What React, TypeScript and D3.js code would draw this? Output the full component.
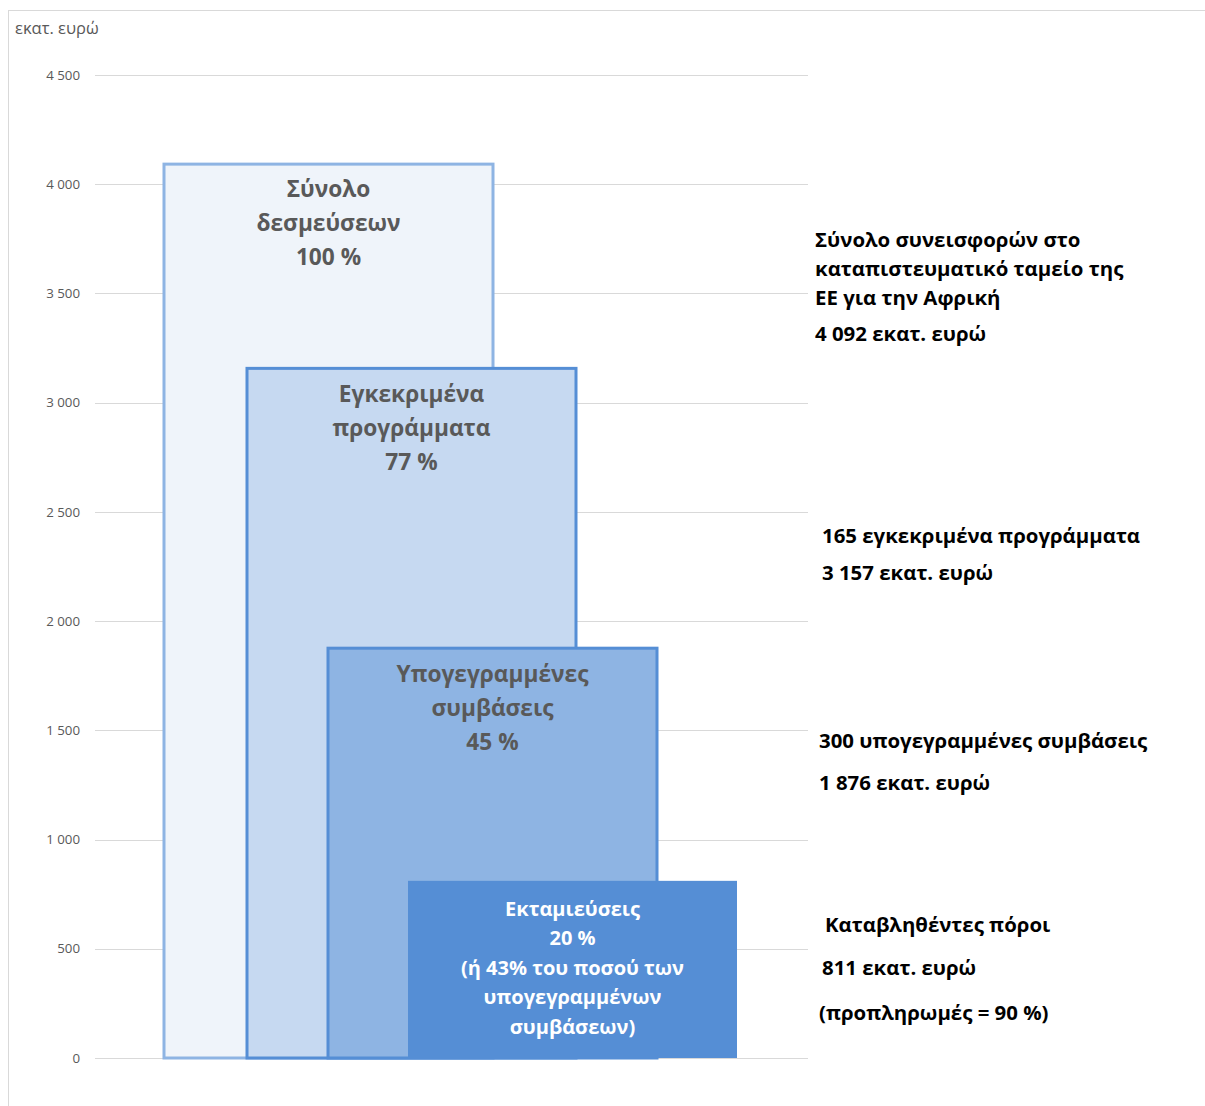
import React from "react";
import * as d3 from "d3";

// ---- data ----
const categories = ["Σύνολο δεσμεύσεων", "Εγκεκριμένα προγράμματα", "Υπογεγραμμένες συμβάσεις", "Εκταμιεύσεις"];
const values = [4092, 3157, 1876, 811];
const barLabelLines = [
  ["Σύνολο", "δεσμεύσεων", "100 %"],
  ["Εγκεκριμένα", "προγράμματα", "77 %"],
  ["Υπογεγραμμένες", "συμβάσεις", "45 %"],
  ["Εκταμιεύσεις", "20 %", "(ή 43% του ποσού των", "υπογεγραμμένων", "συμβάσεων)"],
];
const annotationLines = [
  ["Σύνολο συνεισφορών στο", "καταπιστευματικό ταμείο της", "ΕΕ για την Αφρική", "4 092 εκατ. ευρώ"],
  ["165 εγκεκριμένα προγράμματα", "3 157 εκατ. ευρώ"],
  ["300 υπογεγραμμένες συμβάσεις", "1 876 εκατ. ευρώ"],
  ["Καταβληθέντες πόροι", "811 εκατ. ευρώ", "(προπληρωμές = 90 %)"],
];
const yTicks = [0, 500, 1000, 1500, 2000, 2500, 3000, 3500, 4000, 4500];
const yUnit = "εκατ. ευρώ";

// ---- styles / layout ----
const fills = ["#EFF4FA", "#C6D9F1", "#8EB4E3", "#558ED5"];
const strokes = ["#8EB4E3", "#558ED5", "#558ED5", "none"];
const textColors = ["#595959", "#595959", "#595959", "#FFFFFF"];
const labelSizes = [22.7, 22.7, 22.7, 20];
const labelLineH = [34, 34, 34, 29.5];
const labelFirstOffset = [33, 34, 34, 35];
const barLefts = [164, 247, 328, 408];
const annotationLayout = [
  { x: 815, ys: [247, 276, 305, 341] },
  { x: 822, ys: [543, 580] },
  { x: 819, ys: [748, 790] },
  { x: 825, ys: [932, 975, 1020], xs: [825, 822, 819] },
];

const W = 1205;
const H = 1106;
const FONT = "'Open Sans', 'Noto Sans', sans-serif";

export default function App() {
  const y = d3.scaleLinear().domain([0, 4500]).range([1058, 75]);
  const x = d3.scaleOrdinal<string, number>().domain(categories).range(barLefts);
  const barW = 329;
  const fmt = (v: number) => d3.format(",")(v).replace(/,/g, " ");

  return (
    <svg
      width={W}
      height={H}
      style={{ position: "absolute", left: 0, top: 0, background: "#fff" }}
      fontFamily={FONT}
    >
      {/* outer frame */}
      <line x1={8.5} x2={8.5} y1={10} y2={H} stroke="#d9d9d9" strokeWidth={1} />
      <line x1={8} x2={W} y1={10.5} y2={10.5} stroke="#d9d9d9" strokeWidth={1} />

      <text x={15} y={34} fontSize={16.5} fill="#595959">{yUnit}</text>

      {/* gridlines + ticks */}
      {yTicks.map((t) => (
        <g key={t}>
          <line x1={95} x2={808} y1={Math.round(y(t)) + 0.5} y2={Math.round(y(t)) + 0.5} stroke="#d9d9d9" strokeWidth={1} />
          <text x={80} y={y(t)} dy="0.35em" textAnchor="end" fontSize={13.3} fill="#595959">
            {fmt(t)}
          </text>
        </g>
      ))}

      {/* bars */}
      {values.map((v, i) => (
        <rect
          key={categories[i]}
          x={x(categories[i])}
          y={y(v)}
          width={barW}
          height={y(0) - y(v)}
          fill={fills[i]}
          stroke={strokes[i]}
          strokeWidth={3}
        />
      ))}

      {/* bar labels */}
      {values.map((v, i) => {
        const cx = x(categories[i]) + barW / 2;
        return (
          <text key={"l" + i} x={cx} textAnchor="middle" fontSize={labelSizes[i]} fontWeight="bold" fill={textColors[i]}>
            {barLabelLines[i].map((ln, j) => (
              <tspan key={j} x={cx} y={y(v) + labelFirstOffset[i] + j * labelLineH[i]}>
                {ln}
              </tspan>
            ))}
          </text>
        );
      })}

      {/* annotations */}
      {annotationLines.map((lines, i) => (
        <text key={"a" + i} fontSize={20.4} fontWeight="bold" fill="#000">
          {lines.map((ln, j) => (
            <tspan
              key={j}
              x={annotationLayout[i].xs ? annotationLayout[i].xs![j] : annotationLayout[i].x}
              y={annotationLayout[i].ys[j]}
            >
              {ln}
            </tspan>
          ))}
        </text>
      ))}
    </svg>
  );
}
